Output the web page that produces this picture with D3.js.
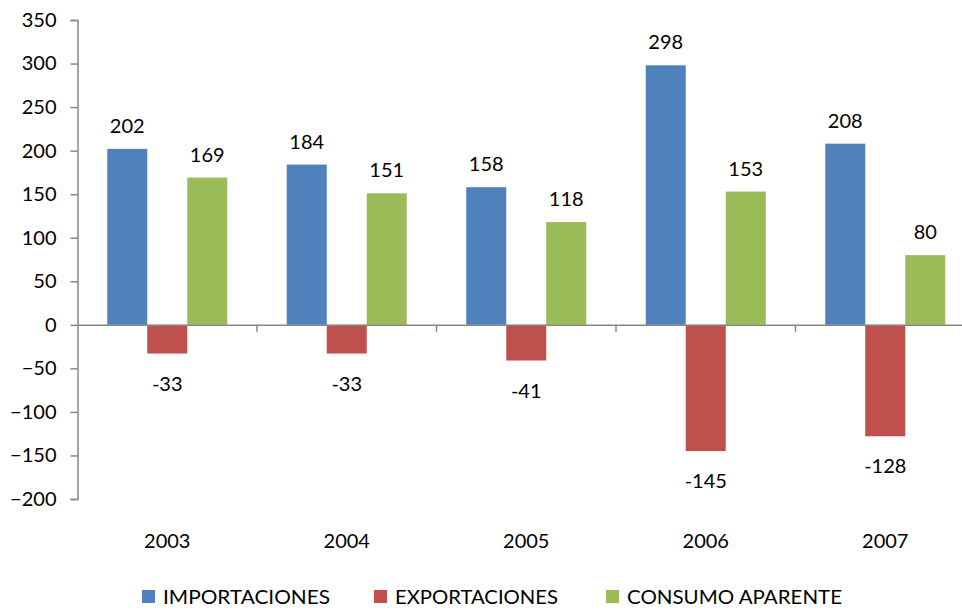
<!DOCTYPE html>
<html>
<head>
<meta charset="utf-8">
<script src="https://cdn.jsdelivr.net/npm/d3@7"></script>
<style>
  body { margin: 0; background: #fff; }
  svg { display: block; font-family: Lato, "Open Sans", sans-serif; }
</style>
</head>
<body>
<div id="main"></div>
<script>
let years = ["2003", "2004", "2005", "2006", "2007"]
let series = ["IMPORTACIONES", "EXPORTACIONES", "CONSUMO APARENTE"]
let importaciones = [202, 184, 158, 298, 208]
let exportaciones = [-33, -33, -41, -145, -128]
let consumo = [169, 151, 118, 153, 80]
let yTicks = [-200, -150, -100, -50, 0, 50, 100, 150, 200, 250, 300, 350]
let colors = ["#4F81BD", "#C0504D", "#9BBB59"]

let values = [importaciones, exportaciones, consumo]

let width = 962, height = 611
let fontSize = 20

let svg = d3.select("#main").append("svg")
    .attr("width", width)
    .attr("height", height)

// scales
let y = d3.scaleLinear()
    .domain([-200, 350])
    .range([499, 20])

let x = d3.scaleBand()
    .domain(years)
    .range([77.5, 77.5 + 5 * 179.5])

let barW = 40
let xs = d3.scaleBand()
    .domain(series)
    .range([0, barW * 3])

// y axis
let yAxis = svg.append("g")
    .attr("transform", "translate(77.5,0)")
    .call(d3.axisLeft(y).tickValues(yTicks).tickSize(7).tickPadding(14))
yAxis.select(".domain").attr("stroke", "#868686").attr("stroke-width", 1.5)
yAxis.selectAll(".tick line").attr("stroke", "#868686").attr("stroke-width", 1.5)
yAxis.selectAll("text")
    .attr("font-size", fontSize + "px")
    .attr("font-family", "Lato, sans-serif")
    .attr("fill", "#000")

// bars
let groups = svg.selectAll("g.year")
    .data(years)
    .enter()
    .append("g")
    .attr("class", "year")
    .attr("transform", d => "translate(" + (x(d) + x.bandwidth() / 2 - barW * 1.5) + ",0)")

groups.each(function (yr, i) {
    let g = d3.select(this)
    series.forEach((s, j) => {
        let v = values[j][i]
        g.append("rect")
            .attr("x", xs(s))
            .attr("y", y(Math.max(v, 0)))
            .attr("width", barW)
            .attr("height", Math.abs(y(v) - y(0)))
            .attr("fill", colors[j])
        g.append("text")
            .attr("x", xs(s) + barW / 2)
            .attr("y", v >= 0 ? y(v) - 16 : y(v) + 37)
            .attr("text-anchor", "middle")
            .attr("font-size", fontSize + "px")
            .text(v)
    })
})

// x axis on zero line
let xAxis = svg.append("g")
    .attr("transform", "translate(0," + y(0) + ")")
    .call(d3.axisBottom(x).tickSize(0).tickPadding(0).tickFormat(""))
xAxis.select(".domain").attr("stroke", "#868686").attr("stroke-width", 1.5)

svg.append("g")
    .selectAll("line")
    .data(years.slice(1))
    .enter()
    .append("line")
    .attr("x1", d => x(d))
    .attr("x2", d => x(d))
    .attr("y1", y(0))
    .attr("y2", y(0) + 7)
    .attr("stroke", "#868686")
    .attr("stroke-width", 1.5)

svg.append("g")
    .selectAll("text")
    .data(years)
    .enter()
    .append("text")
    .attr("x", d => x(d) + x.bandwidth() / 2)
    .attr("y", 548)
    .attr("text-anchor", "middle")
    .attr("font-size", fontSize + "px")
    .text(d => d)

// legend (kept just inside the bottom edge)
let legendX = [142, 374, 606]
let legendW = [167, 163, 215]
let legend = svg.append("g")
    .selectAll("g")
    .data(series)
    .enter()
    .append("g")
    .attr("transform", (d, i) => "translate(" + legendX[i] + ",590)")

legend.append("rect")
    .attr("width", 13)
    .attr("height", 13)
    .attr("fill", (d, i) => colors[i])

legend.append("text")
    .attr("x", 21)
    .attr("y", 14)
    .attr("font-size", "20px")
    .attr("textLength", (d, i) => legendW[i])
    .attr("lengthAdjust", "spacingAndGlyphs")
    .text(d => d)
</script>
</body>
</html>
